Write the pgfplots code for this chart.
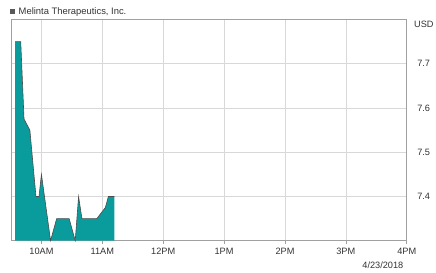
\documentclass[border=0pt]{standalone}
\usepackage{pgfplots}
\pgfplotsset{compat=1.18}
\usepackage{fontspec}
\setmainfont{Liberation Sans}
\definecolor{teal1}{HTML}{0A9C9C}
\definecolor{gridc}{HTML}{D8D8D8}
\definecolor{axc}{HTML}{A0A0A0}
\definecolor{txt}{HTML}{333333}
\begin{document}
\begin{tikzpicture}
\begin{axis}[
  scale only axis, width=395.7pt, height=221.2pt,
  xmin=9.5, xmax=16, ymin=7.3, ymax=7.8,
  xtick={10,11,12,13,14,15,16},
  xticklabels={10AM,11AM,12PM,1PM,2PM,3PM,4PM},
  ytick={7.4,7.5,7.6,7.7},
  yticklabels={7.4,7.5,7.6,7.7},
  yticklabel pos=right,
  grid=major,
  major grid style={gridc, line width=0.6pt},
  axis line style={axc, line width=0.8pt},
  x tick style={axc, line width=0.6pt},
  y tick style={draw=none},
  tick align=outside,
  major tick length=3pt,
  xtick pos=bottom,
  ticklabel style={font=\fontsize{9.2}{11}\selectfont, text=txt},
  xticklabel style={yshift=-1pt},
  yticklabel style={anchor=west, xshift=4pt},
  clip=false,
]
\path (rel axis cs:-0.0278,-0.1415) rectangle (rel axis cs:1.0740,1.0882);
\addplot[draw=none, fill=teal1] coordinates {
(9.566,7.75)(9.66,7.75)(9.714,7.575)(9.81,7.55)(9.91,7.40)(9.96,7.40)(10.0,7.45)
(10.15,7.30)(10.25,7.35)(10.455,7.35)(10.555,7.30)(10.61,7.40)(10.665,7.35)
(10.91,7.35)(11.05,7.375)(11.10,7.40)(11.20,7.40)
} \closedcycle;
\addplot[draw=black!70, line width=0.6pt] coordinates {
(9.566,7.75)(9.66,7.75)(9.714,7.575)(9.81,7.55)(9.91,7.40)(9.96,7.40)(10.0,7.45)
(10.15,7.30)(10.25,7.35)(10.455,7.35)(10.555,7.30)(10.61,7.40)(10.665,7.35)
(10.91,7.35)(11.05,7.375)(11.10,7.40)(11.20,7.40)
};
\fill[black!65] (rel axis cs:-0.0025,1.0249) rectangle (rel axis cs:0.0101,1.0461);
\node[anchor=west, inner sep=0pt, text=txt, font=\fontsize{9.4}{11}\selectfont] at (rel axis cs:0.019,1.0353) {Melinta Therapeutics, Inc.};
\node[anchor=west, inner sep=0pt, text=txt, font=\fontsize{9.2}{11}\selectfont] at (rel axis cs:1.0184,0.9797) {USD};
\node[anchor=east, inner sep=0pt, text=txt, font=\fontsize{9.2}{11}\selectfont] at (rel axis cs:0.9919,-0.1099) {4/23/2018};
\end{axis}
\end{tikzpicture}
\end{document}
